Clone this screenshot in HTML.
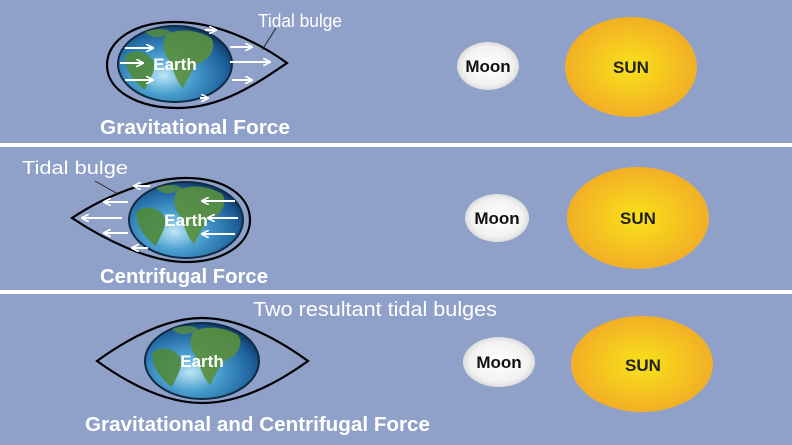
<!DOCTYPE html>
<html><head><meta charset="utf-8"><style>
html,body{margin:0;padding:0;background:#8fa1c8;}
svg{display:block;font-family:"Liberation Sans",sans-serif;}
</style></head><body>
<svg width="792" height="445" viewBox="0 0 792 445" xmlns="http://www.w3.org/2000/svg">
<defs>
<radialGradient id="ocean" cx="0.4" cy="0.65" r="0.7">
<stop offset="0" stop-color="#bfe6f5"/><stop offset="0.35" stop-color="#4aa0d0"/><stop offset="0.8" stop-color="#1c5f9a"/><stop offset="1" stop-color="#0c2f55"/>
</radialGradient>
<radialGradient id="sun" cx="0.5" cy="0.5" r="0.5">
<stop offset="0" stop-color="#f8e21a"/><stop offset="1" stop-color="#f2af25"/>
</radialGradient>
<radialGradient id="moon" cx="0.5" cy="0.5" r="0.5">
<stop offset="0" stop-color="#ffffff"/><stop offset="0.8" stop-color="#f2f2f2"/><stop offset="1" stop-color="#dddddd"/>
</radialGradient>
<g id="earth">
<ellipse cx="0" cy="0" rx="57" ry="38" fill="url(#ocean)" stroke="#102a44" stroke-width="2"/>
<path d="M-50,-8 C-40,-16 -28,-12 -22,-4 C-18,6 -25,14 -30,26 C-36,22 -44,14 -48,4 Z" fill="#4f8a3a" opacity="0.9"/>
<path d="M-8,-30 C6,-36 22,-34 36,-26 C42,-18 36,-6 26,-2 C18,2 14,14 8,24 C2,18 -2,6 -6,-4 C-12,-12 -14,-22 -8,-30 Z" fill="#5a8f3c" opacity="0.9"/>
<path d="M-30,-32 C-20,-36 -10,-36 -4,-32 C-12,-26 -22,-24 -30,-32 Z" fill="#5a8f3c" opacity="0.8"/>
<text x="0" y="6" text-anchor="middle" font-size="17" font-weight="bold" fill="#fff">Earth</text>
</g>
<marker id="ah" viewBox="0 0 10 10" refX="9" refY="5" markerWidth="4" markerHeight="4" orient="auto"><path d="M0,0 L10,5 L0,10" fill="none" stroke="#fff" stroke-width="2"/></marker>
</defs>
<rect width="792" height="445" fill="#8fa1c8"/>
<rect x="0" y="143" width="792" height="4" fill="#fff"/>
<rect x="0" y="290" width="792" height="4" fill="#fff"/>

<!-- Panel 1 -->
<path d="M175,22 C135,22 107,40 107,65 C107,92 140,108 178,108 C220,108 255,85 287,63 C255,40 215,22 175,22 Z" fill="none" stroke="#000" stroke-width="2.2"/>
<use href="#earth" x="175" y="64"/>
<g stroke="#fff" stroke-width="2" marker-end="url(#ah)">
<line x1="125" y1="48" x2="153" y2="48"/><line x1="120" y1="63" x2="143" y2="63"/><line x1="125" y1="80" x2="153" y2="80"/>
<line x1="205" y1="30" x2="216" y2="30"/><line x1="230" y1="47" x2="252" y2="47"/><line x1="230" y1="62" x2="270" y2="62"/><line x1="232" y1="80" x2="252" y2="80"/><line x1="200" y1="98" x2="208" y2="98"/>
</g>
<line x1="262" y1="50" x2="276" y2="28" stroke="#222" stroke-width="1"/>
<text x="258" y="27" font-size="18" fill="#fff" textLength="84" lengthAdjust="spacingAndGlyphs">Tidal bulge</text>
<text x="100" y="134" font-size="20" font-weight="bold" fill="#fff" textLength="190" lengthAdjust="spacingAndGlyphs">Gravitational Force</text>
<ellipse cx="488" cy="66" rx="31" ry="24" fill="url(#moon)"/>
<text x="488" y="72" text-anchor="middle" font-size="17" font-weight="bold" fill="#111">Moon</text>
<ellipse cx="631" cy="67" rx="66" ry="50" fill="url(#sun)"/>
<text x="631" y="73" text-anchor="middle" font-size="17" font-weight="bold" fill="#222">SUN</text>

<!-- Panel 2 -->
<path d="M186,178 C225,178 250,196 250,220 C250,245 222,262 186,262 C150,262 105,240 72,218 C105,196 150,178 186,178 Z" fill="none" stroke="#000" stroke-width="2.2"/>
<use href="#earth" x="186" y="220"/>
<g stroke="#fff" stroke-width="2" marker-end="url(#ah)">
<line x1="235" y1="201" x2="202" y2="201"/><line x1="238" y1="218" x2="208" y2="218"/><line x1="235" y1="234" x2="202" y2="234"/>
<line x1="150" y1="186" x2="134" y2="186"/><line x1="128" y1="202" x2="104" y2="202"/><line x1="122" y1="218" x2="82" y2="218"/><line x1="128" y1="233" x2="104" y2="233"/><line x1="148" y1="248" x2="132" y2="248"/>
</g>
<line x1="95" y1="181" x2="118" y2="194" stroke="#222" stroke-width="1"/>
<text x="22" y="174" font-size="18" fill="#fff" textLength="106" lengthAdjust="spacingAndGlyphs">Tidal bulge</text>
<text x="100" y="283" font-size="20" font-weight="bold" fill="#fff" textLength="168" lengthAdjust="spacingAndGlyphs">Centrifugal Force</text>
<ellipse cx="497" cy="218" rx="32" ry="24" fill="url(#moon)"/>
<text x="497" y="224" text-anchor="middle" font-size="17" font-weight="bold" fill="#111">Moon</text>
<ellipse cx="638" cy="218" rx="71" ry="51" fill="url(#sun)"/>
<text x="638" y="224" text-anchor="middle" font-size="17" font-weight="bold" fill="#222">SUN</text>

<!-- Panel 3 -->
<path d="M97,361 C140,330 175,318 202,318 C230,318 265,330 308,361 C265,392 230,403 202,403 C175,403 140,392 97,361 Z" fill="none" stroke="#000" stroke-width="2.2"/>
<use href="#earth" x="202" y="361"/>
<text x="253" y="316" font-size="20" fill="#fff" textLength="244" lengthAdjust="spacingAndGlyphs">Two resultant tidal bulges</text>
<text x="85" y="431" font-size="20" font-weight="bold" fill="#fff" textLength="345" lengthAdjust="spacingAndGlyphs">Gravitational and Centrifugal Force</text>
<ellipse cx="499" cy="362" rx="36" ry="25" fill="url(#moon)"/>
<text x="499" y="368" text-anchor="middle" font-size="17" font-weight="bold" fill="#111">Moon</text>
<ellipse cx="642" cy="364" rx="71" ry="48" fill="url(#sun)"/>
<text x="643" y="371" text-anchor="middle" font-size="17" font-weight="bold" fill="#222">SUN</text>
</svg>
</body></html>
